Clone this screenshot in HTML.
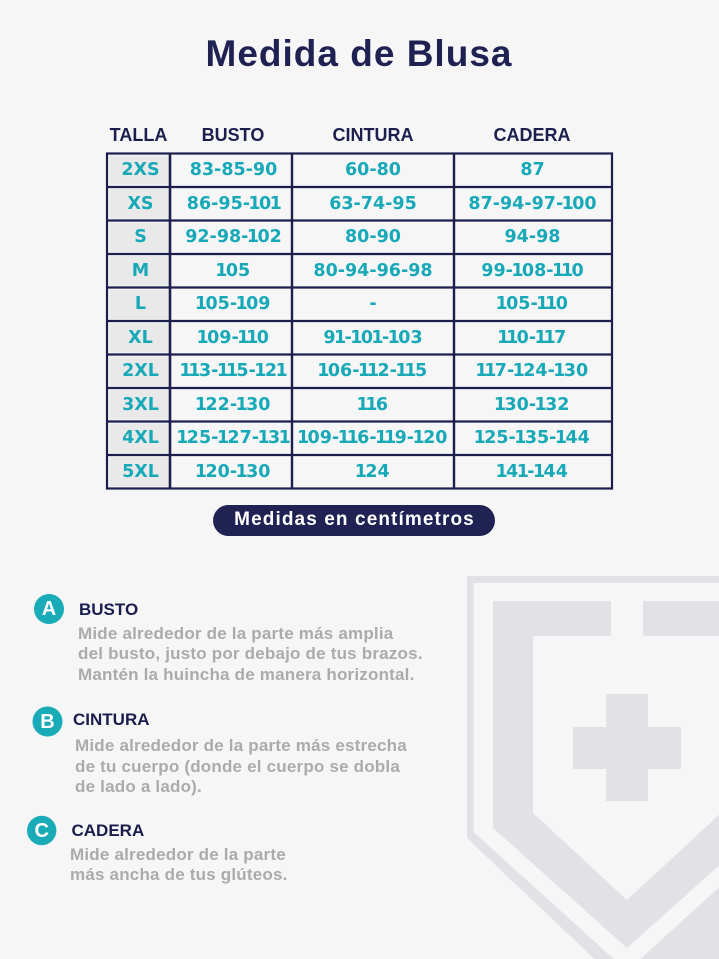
<!DOCTYPE html>
<html>
<head>
<meta charset="utf-8">
<style>
html,body{margin:0;padding:0;}
body{width:719px;height:959px;background:#f6f6f6;position:relative;overflow:hidden;font-family:"Liberation Sans",sans-serif;}
svg{position:absolute;left:0;top:0;}
.t{position:absolute;height:0;line-height:0;white-space:nowrap;}
.c{width:240px;text-align:center;}
.w{width:600px;text-align:center;}
.title{font-weight:bold;font-size:37px;letter-spacing:1px;color:#1e2152;}
.hd{font-weight:bold;font-size:18px;color:#1c1f4e;}
.d{font-family:"DejaVu Sans",sans-serif;font-weight:bold;font-size:17.5px;color:#18a9b8;}
.d i{font-style:normal;margin:0 -1.6px;}
.pill{font-weight:bold;font-size:19px;letter-spacing:1.1px;color:#fff;}
.h2{font-weight:bold;font-size:17px;color:#1a1c4c;}
.ds{font-weight:bold;font-size:17px;letter-spacing:0.2px;color:#ababab;}
.lt{font-weight:bold;font-size:20px;color:#fff;width:40px;text-align:center;}
</style>
</head>
<body>
<svg width="719" height="959" viewBox="0 0 719 959">
  <g fill="#e2e2e6">
    <rect x="467" y="576" width="260" height="7"/>
    <polygon points="467,576 473.5,576 473.5,832 627,971 780,832 780,990 627,990 467,838"/>
    <rect x="493" y="601" width="118" height="35"/>
    <rect x="643" y="601" width="118" height="35"/>
    <polygon points="493,601 533,601 533,813 627,900 721,813 761,828 627,948 493,828"/>
    <rect x="606" y="694" width="42" height="107"/>
    <rect x="573" y="727" width="108" height="42"/>
  </g>
  <rect x="0" y="959" width="719" height="40" fill="#f6f6f6"/>

  <g fill="#e9e9e9">
    <rect x="109.5" y="155.5" width="59" height="29"/>
    <rect x="109.5" y="189" width="59" height="29.5"/>
    <rect x="109.5" y="222.5" width="59" height="29.5"/>
    <rect x="109.5" y="256" width="59" height="29.5"/>
    <rect x="109.5" y="289.5" width="59" height="29.5"/>
    <rect x="109.5" y="323" width="59" height="29.5"/>
    <rect x="109.5" y="356.5" width="59" height="29.5"/>
    <rect x="109.5" y="390" width="59" height="29.5"/>
    <rect x="109.5" y="423.5" width="59" height="29.5"/>
    <rect x="109.5" y="457" width="59" height="29.5"/>
  </g>
  <g stroke="#1c1f4e" fill="none">
    <rect x="107" y="153.5" width="505" height="335" stroke-width="2.2"/>
    <line x1="170" y1="153.5" x2="170" y2="488.5" stroke-width="2.6"/>
    <line x1="292" y1="153.5" x2="292" y2="488.5" stroke-width="2.4"/>
    <line x1="454" y1="153.5" x2="454" y2="488.5" stroke-width="2.4"/>
    <line x1="107" y1="187" x2="612" y2="187" stroke-width="2.2"/>
    <line x1="107" y1="220.5" x2="612" y2="220.5" stroke-width="2.2"/>
    <line x1="107" y1="254" x2="612" y2="254" stroke-width="2.2"/>
    <line x1="107" y1="287.5" x2="612" y2="287.5" stroke-width="2.2"/>
    <line x1="107" y1="321" x2="612" y2="321" stroke-width="2.2"/>
    <line x1="107" y1="354.5" x2="612" y2="354.5" stroke-width="2.2"/>
    <line x1="107" y1="388" x2="612" y2="388" stroke-width="2.2"/>
    <line x1="107" y1="421.5" x2="612" y2="421.5" stroke-width="2.2"/>
    <line x1="107" y1="455" x2="612" y2="455" stroke-width="2.2"/>
  </g>

  <rect x="213" y="505" width="282" height="31" rx="15.5" fill="#1f2252"/>

  <circle cx="49" cy="609" r="15" fill="#1aabb9"/>
  <circle cx="47.5" cy="721.5" r="15" fill="#1aabb9"/>
  <circle cx="41.7" cy="830.5" r="14.7" fill="#1aabb9"/>
</svg>

<div class="t w title" style="left:59px;top:54px;">Medida de Blusa</div>

<div class="t c hd" style="left:18.5px;top:135px;">TALLA</div>
<div class="t c hd" style="left:113px;top:135px;">BUSTO</div>
<div class="t c hd" style="left:253px;top:135px;">CINTURA</div>
<div class="t c hd" style="left:412px;top:135px;">CADERA</div>

<div class="t c d" style="left:20.5px;top:170px;">2XS</div>
<div class="t c d" style="left:113.5px;top:170px;">83-85-90</div>
<div class="t c d" style="left:253px;top:170px;">60-80</div>
<div class="t c d" style="left:412.5px;top:170px;">87</div>

<div class="t c d" style="left:20.5px;top:203.7px;">XS</div>
<div class="t c d" style="left:113.5px;top:203.7px;">86-95-<i>1</i>0<i>1</i></div>
<div class="t c d" style="left:253px;top:203.7px;">63-74-95</div>
<div class="t c d" style="left:412.5px;top:203.7px;">87-94-97-<i>1</i>00</div>

<div class="t c d" style="left:20.5px;top:237.2px;">S</div>
<div class="t c d" style="left:113.5px;top:237.2px;">92-98-<i>1</i>02</div>
<div class="t c d" style="left:253px;top:237.2px;">80-90</div>
<div class="t c d" style="left:412.5px;top:237.2px;">94-98</div>

<div class="t c d" style="left:20.5px;top:270.7px;">M</div>
<div class="t c d" style="left:113.5px;top:270.7px;"><i>1</i>05</div>
<div class="t c d" style="left:253px;top:270.7px;">80-94-96-98</div>
<div class="t c d" style="left:412.5px;top:270.7px;">99-<i>1</i>08-<i>1</i><i>1</i>0</div>

<div class="t c d" style="left:20.5px;top:304.2px;">L</div>
<div class="t c d" style="left:113.5px;top:304.2px;"><i>1</i>05-<i>1</i>09</div>
<div class="t c d" style="left:253px;top:304.2px;">-</div>
<div class="t c d" style="left:412.5px;top:304.2px;"><i>1</i>05-<i>1</i><i>1</i>0</div>

<div class="t c d" style="left:20.5px;top:337.7px;">XL</div>
<div class="t c d" style="left:113.5px;top:337.7px;"><i>1</i>09-<i>1</i><i>1</i>0</div>
<div class="t c d" style="left:253px;top:337.7px;">9<i>1</i>-<i>1</i>0<i>1</i>-<i>1</i>03</div>
<div class="t c d" style="left:412.5px;top:337.7px;"><i>1</i><i>1</i>0-<i>1</i><i>1</i>7</div>

<div class="t c d" style="left:20.5px;top:371.2px;">2XL</div>
<div class="t c d" style="left:113.5px;top:371.2px;"><i>1</i><i>1</i>3-<i>1</i><i>1</i>5-<i>1</i>2<i>1</i></div>
<div class="t c d" style="left:253px;top:371.2px;"><i>1</i>06-<i>1</i><i>1</i>2-<i>1</i><i>1</i>5</div>
<div class="t c d" style="left:412.5px;top:371.2px;"><i>1</i><i>1</i>7-<i>1</i>24-<i>1</i>30</div>

<div class="t c d" style="left:20.5px;top:404.7px;">3XL</div>
<div class="t c d" style="left:113.5px;top:404.7px;"><i>1</i>22-<i>1</i>30</div>
<div class="t c d" style="left:253px;top:404.7px;"><i>1</i><i>1</i>6</div>
<div class="t c d" style="left:412.5px;top:404.7px;"><i>1</i>30-<i>1</i>32</div>

<div class="t c d" style="left:20.5px;top:438.2px;">4XL</div>
<div class="t c d" style="left:113.5px;top:438.2px;"><i>1</i>25-<i>1</i>27-<i>1</i>3<i>1</i></div>
<div class="t c d" style="left:253px;top:438.2px;"><i>1</i>09-<i>1</i><i>1</i>6-<i>1</i><i>1</i>9-<i>1</i>20</div>
<div class="t c d" style="left:412.5px;top:438.2px;"><i>1</i>25-<i>1</i>35-<i>1</i>44</div>

<div class="t c d" style="left:20.5px;top:471.7px;">5XL</div>
<div class="t c d" style="left:113.5px;top:471.7px;"><i>1</i>20-<i>1</i>30</div>
<div class="t c d" style="left:253px;top:471.7px;"><i>1</i>24</div>
<div class="t c d" style="left:412.5px;top:471.7px;"><i>1</i>4<i>1</i>-<i>1</i>44</div>

<div class="t w pill" style="left:54.5px;top:520px;">Medidas en centímetros</div>

<div class="t lt" style="left:29px;top:609px;">A</div>
<div class="t h2" style="left:79px;top:610px;">BUSTO</div>
<div class="t ds" style="left:78px;top:633.5px;">Mide alrededor de la parte más amplia</div>
<div class="t ds" style="left:78px;top:654.2px;">del busto, justo por debajo de tus brazos.</div>
<div class="t ds" style="left:78px;top:674.8px;">Mantén la huincha de manera horizontal.</div>

<div class="t lt" style="left:27.5px;top:721.5px;">B</div>
<div class="t h2" style="left:73px;top:720px;">CINTURA</div>
<div class="t ds" style="left:75px;top:746.3px;">Mide alrededor de la parte más estrecha</div>
<div class="t ds" style="left:75px;top:766.8px;">de tu cuerpo (donde el cuerpo se dobla</div>
<div class="t ds" style="left:75px;top:787.2px;">de lado a lado).</div>

<div class="t lt" style="left:21.7px;top:830.5px;">C</div>
<div class="t h2" style="left:71.5px;top:830.5px;">CADERA</div>
<div class="t ds" style="left:70px;top:854.8px;">Mide alrededor de la parte</div>
<div class="t ds" style="left:70px;top:875.3px;">más ancha de tus glúteos.</div>
</body>
</html>
